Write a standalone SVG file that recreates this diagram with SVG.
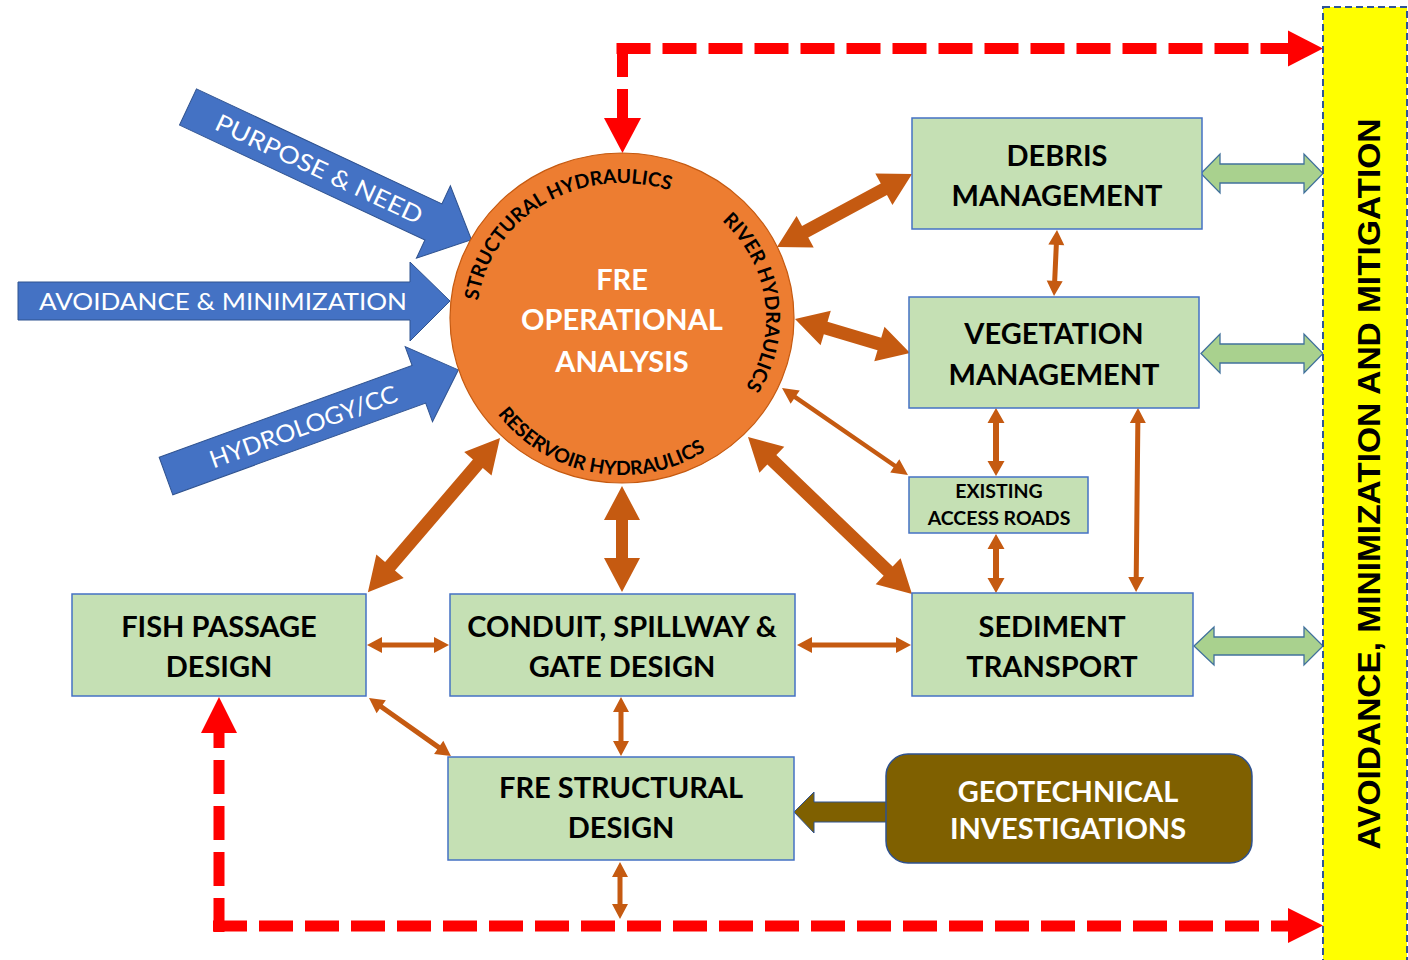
<svg xmlns="http://www.w3.org/2000/svg" width="1408" height="960" viewBox="0 0 1408 960">
<defs>
<style>
.box{fill:#C5E0B4;stroke:#4472C4;stroke-width:1.5}
.bt{font-family:Lato,"Open Sans","Liberation Sans",sans-serif;font-weight:700;font-size:29px;fill:#000;text-anchor:middle}
.wt{font-family:Lato,"Open Sans","Liberation Sans",sans-serif;font-weight:700;font-size:29px;fill:#fff;text-anchor:middle}
.arc{font-family:Lato,"Open Sans","Liberation Sans",sans-serif;font-weight:700;font-size:19.5px;fill:#000}
.blue{fill:#4472C4;stroke:#2F528F;stroke-width:1}
.bl{font-family:Lato,"Open Sans","Liberation Sans",sans-serif;font-size:24px;fill:#fff;text-anchor:middle}
.oa{fill:#C55A11;stroke:none}
.ga{fill:#A9D18E;stroke:#41719C;stroke-width:1.3}
.rd{fill:none;stroke:#FF0000;stroke-width:11;stroke-dasharray:34 12}
.rh{fill:#FF0000}
</style>
<path id="pTop" d="M 477.1 322.7 A 145 135 0 0 1 690.1 198.8"/>
<path id="pRight" d="M 719.1 218.3 A 144 135 0 0 1 743.6 390.3"/>
<path id="pBot" d="M 486 396.5 A 157 157 0 0 0 722.9 438.3"/>
</defs>
<rect width="1408" height="960" fill="#fff"/>

<g id="connectors">
<path class="rd" d="M 616.5 48.5 H 1290"/>
<path class="rd" d="M 622.5 43 V 120"/>
<polygon class="rh" points="1288,30.5 1323,48.5 1288,66.5"/>
<polygon class="rh" points="604,118 641,118 622.5,153"/>
<path class="rd" d="M 213 926 H 1290"/>
<path class="rd" d="M 219 932 V 730"/>
<polygon class="rh" points="1288,908 1323,925.5 1288,943"/>
<polygon class="rh" points="201,733 237,733 219,697"/>

<polygon class="oa" points="0,0 32,-18 32,-6.5 121.5,-6.5 121.5,-18 153.5,0 121.5,18 121.5,6.5 32,6.5 32,18" transform="translate(777,247) rotate(-28.4)"/>
<polygon class="oa" points="0,0 32,-18 32,-6.5 88,-6.5 88,-18 120,0 88,18 88,6.5 32,6.5 32,18" transform="translate(795,319) rotate(16.5)"/>
<polygon class="oa" points="0,0 33,-18 33,-6.5 194,-6.5 194,-18 227,0 194,18 194,6.5 33,6.5 33,18" transform="translate(748,437) rotate(43.75)"/>
<polygon class="oa" points="0,0 34,-18 34,-6.5 169,-6.5 169,-18 203,0 169,18 169,6.5 34,6.5 34,18" transform="translate(500,438) rotate(130.6)"/>
<polygon class="oa" points="0,0 34,-18 34,-6 72,-6 72,-18 106,0 72,18 72,6 34,6 34,18" transform="translate(622,486) rotate(90)"/>

<polygon class="oa" points="0,0 16,-8 16,-2.2 137,-2.2 137,-8 153,0 137,8 137,2.2 16,2.2 16,8" transform="translate(782,388) rotate(34.6)"/>
<polygon class="oa" points="0,0 15,-8 15,-2.5 51,-2.5 51,-8 66,0 51,8 51,2.5 15,2.5 15,8" transform="translate(1057,230) rotate(92.6)"/>
<polygon class="oa" points="0,0 15,-8.5 15,-3 53,-3 53,-8.5 68,0 53,8.5 53,3 15,3 15,8.5" transform="translate(996,408) rotate(90)"/>
<polygon class="oa" points="0,0 15,-8.5 15,-3 44,-3 44,-8.5 59,0 44,8.5 44,3 15,3 15,8.5" transform="translate(996,534) rotate(90)"/>
<polygon class="oa" points="0,0 15,-8 15,-2.5 169,-2.5 169,-8 184,0 169,8 169,2.5 15,2.5 15,8" transform="translate(1138,408) rotate(90.6)"/>
<polygon class="oa" points="0,0 15,-8 15,-2.5 67,-2.5 67,-8 82,0 67,8 67,2.5 15,2.5 15,8" transform="translate(367,645)"/>
<polygon class="oa" points="0,0 15,-8 15,-2.5 99,-2.5 99,-8 114,0 99,8 99,2.5 15,2.5 15,8" transform="translate(797,645)"/>
<polygon class="oa" points="0,0 15,-8 15,-2.5 44,-2.5 44,-8 59,0 44,8 44,2.5 15,2.5 15,8" transform="translate(621,697) rotate(90)"/>
<polygon class="oa" points="0,0 15,-8 15,-2.5 85.4,-2.5 85.4,-8 100.4,0 85.4,8 85.4,2.5 15,2.5 15,8" transform="translate(369,698) rotate(35.3)"/>
<polygon class="oa" points="0,0 15,-8 15,-2.5 42,-2.5 42,-8 57,0 42,8 42,2.5 15,2.5 15,8" transform="translate(620,862) rotate(90)"/>

<polygon class="ga" points="1201,173.5 1220,154 1220,164 1304,164 1304,154 1323,173.5 1304,193 1304,183 1220,183 1220,193"/>
<polygon class="ga" points="1201,353.5 1220,334 1220,344 1304,344 1304,334 1323,353.5 1304,373 1304,363 1220,363 1220,373"/>
<polygon class="ga" points="1194,646 1214,627 1214,637 1304,637 1304,627 1323,646 1304,665 1304,655 1214,655 1214,665"/>

<polygon points="794,812 814,792 814,802 887,802 887,822 814,822 814,833" fill="#7F6000" stroke="#2F528F" stroke-width="1"/>
</g>

<g id="in-purpose" transform="translate(188,107) rotate(25.1)">
<polygon class="blue" points="0,-20 271,-20 271,-40 313,0 271,40 271,20 0,20"/>
<text class="bl" x="145" y="9" textLength="226" lengthAdjust="spacingAndGlyphs">PURPOSE &amp; NEED</text>
</g>
<g id="in-avoidance">
<polygon class="blue" points="18,282 410,282 410,262 450,301 410,341 410,320 18,320"/>
<text class="bl" x="223" y="310" textLength="368" lengthAdjust="spacingAndGlyphs">AVOIDANCE &amp; MINIMIZATION</text>
</g>
<g id="in-hydrology" transform="translate(166,476) rotate(-19.95)">
<polygon class="blue" points="0,-20 269,-20 269,-40 311,0 269,40 269,20 0,20"/>
<text class="bl" x="146" y="9" textLength="198" lengthAdjust="spacingAndGlyphs">HYDROLOGY/CC</text>
</g>

<g id="fre-operational">
<ellipse cx="622" cy="318" rx="172" ry="165" fill="#ED7D31" stroke="#C55A11" stroke-width="1.2"/>
<text class="arc"><textPath href="#pTop" startOffset="50%" text-anchor="middle">STRUCTURAL HYDRAULICS</textPath></text>
<text class="arc"><textPath href="#pRight" startOffset="50%" text-anchor="middle">RIVER HYDRAULICS</textPath></text>
<text class="arc"><textPath href="#pBot" startOffset="50%" text-anchor="middle">RESERVOIR HYDRAULICS</textPath></text>
<text class="wt" x="622" y="290">FRE</text>
<text class="wt" x="622" y="330">OPERATIONAL</text>
<text class="wt" x="622" y="372">ANALYSIS</text>
</g>

<g id="debris">
<rect class="box" x="912" y="118" width="290" height="111"/>
<text class="bt" x="1057" y="166">DEBRIS</text>
<text class="bt" x="1057" y="206">MANAGEMENT</text>
</g>
<g id="vegetation">
<rect class="box" x="909" y="297" width="290" height="111"/>
<text class="bt" x="1054" y="344">VEGETATION</text>
<text class="bt" x="1054" y="385">MANAGEMENT</text>
</g>
<g id="roads">
<rect class="box" x="909" y="477" width="179" height="56"/>
<text class="bt" x="999" y="498" style="font-size:19.5px">EXISTING</text>
<text class="bt" x="999" y="525" style="font-size:19.5px">ACCESS ROADS</text>
</g>
<g id="sediment">
<rect class="box" x="912" y="593" width="281" height="103"/>
<text class="bt" x="1052" y="637">SEDIMENT</text>
<text class="bt" x="1052" y="677">TRANSPORT</text>
</g>
<g id="conduit">
<rect class="box" x="450" y="594" width="345" height="102"/>
<text class="bt" x="622" y="637">CONDUIT, SPILLWAY &amp;</text>
<text class="bt" x="622" y="677">GATE DESIGN</text>
</g>
<g id="fish">
<rect class="box" x="72" y="594" width="294" height="102"/>
<text class="bt" x="219" y="637">FISH PASSAGE</text>
<text class="bt" x="219" y="677">DESIGN</text>
</g>
<g id="structural">
<rect class="box" x="448" y="757" width="346" height="103"/>
<text class="bt" x="621" y="798">FRE STRUCTURAL</text>
<text class="bt" x="621" y="838">DESIGN</text>
</g>
<g id="geotech">
<rect x="886" y="754" width="366" height="109" rx="22" fill="#7F6000" stroke="#2F528F" stroke-width="1.5"/>
<text class="wt" x="1068" y="802">GEOTECHNICAL</text>
<text class="wt" x="1068" y="839">INVESTIGATIONS</text>
</g>
<g id="mitigation">
<rect x="1323" y="7" width="84" height="962" fill="#FFFF00" stroke="#2F5597" stroke-width="2" stroke-dasharray="7 4"/>
<text transform="translate(1380,484) rotate(-90)" text-anchor="middle" font-family="'Liberation Sans',Arial,sans-serif" font-weight="700" font-size="32" textLength="731" lengthAdjust="spacingAndGlyphs" fill="#000">AVOIDANCE, MINIMIZATION AND MITIGATION</text>
</g>
</svg>
